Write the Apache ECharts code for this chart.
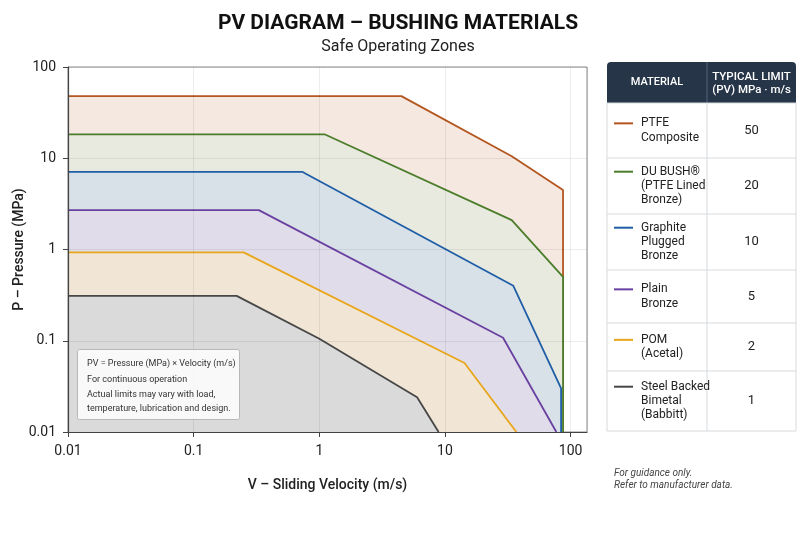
<!DOCTYPE html>
<html lang="en">
<head>
<meta charset="utf-8">
<title>PV Diagram – Bushing Materials</title>
<script src="https://cdn.jsdelivr.net/npm/echarts@6/dist/echarts.min.js"></script>
<style>
  html, body { margin: 0; padding: 0; background: #fff; }
  #chart { width: 800px; height: 533px; }
</style>
</head>
<body>
<div id="chart"></div>
<script>
// table / legend content
var materialNames = ['PTFE\nComposite', 'DU BUSH®\n(PTFE Lined\nBronze)', 'Graphite\nPlugged\nBronze', 'Plain\nBronze', 'POM\n(Acetal)', 'Steel Backed\nBimetal\n(Babbitt)'];
var pvLimits = [50, 20, 10, 5, 2, 1];
var xTickLabels = ['0.01', '0.1', '1', '10', '100'];

// boundary curves, velocity (m/s) and pressure (MPa)
var ptfeV = [0.01, 4.5, 34, 87, 87];
var ptfeP = [48, 48, 10.5, 4.5, 0.01];
var duV = [0.01, 1.1, 34, 87, 87];
var duP = [18.3, 18.3, 2.1, 0.5, 0.01];
var graphiteV = [0.01, 0.73, 35, 84, 84];
var graphiteP = [7.1, 7.1, 0.4, 0.03, 0.01];
var bronzeV = [0.01, 0.33, 29, 77];
var bronzeP = [2.7, 2.7, 0.108, 0.01];
var pomV = [0.01, 0.25, 14.3, 37];
var pomP = [0.93, 0.93, 0.057, 0.01];
var steelV = [0.01, 0.22, 1.0, 6.0, 8.9];
var steelP = [0.31, 0.31, 0.105, 0.024, 0.01];

var curves = [[ptfeV, ptfeP], [duV, duP], [graphiteV, graphiteP], [bronzeV, bronzeP], [pomV, pomP], [steelV, steelP]];
var lineColors = ['#b4561f', '#4b7d2b', '#1f5ea6', '#6a40a0', '#e9a61a', '#474747'];
var fillColors = ['#f5e8e0', '#e9eadf', '#d8e1e8', '#e0dcea', '#f1e6d6', '#dadada'];

function pairs(v, p) {
	var out = [];
	for (var i = 0; i < v.length; i++) out.push([v[i], p[i]]);
	return out;
}

var seriesList = curves.map(function (c, i) {
	return {
		name: materialNames[i].replace(/\n/g, ' '),
		type: 'line',
		data: pairs(c[0], c[1]),
		symbol: 'none',
		z: 2 + i * 0.1,
		lineStyle: { color: lineColors[i], width: 1.8 },
		itemStyle: { color: lineColors[i] },
		areaStyle: { color: fillColors[i], opacity: 1, origin: 'start' }
	};
});

// table on the right + note box, as graphic elements
function buildGraphics() {
	var tblL = 607, tblR = 796, colX = 707, headTop = 62, headBot = 103;
	var rowEdges = [103, 158, 214, 270, 323, 371, 431];
	var lh = 14.3;
	var g = [];
	g.push({ type: 'rect', shape: { x: tblL, y: headTop, width: tblR - tblL, height: headBot - headTop, r: [4, 4, 0, 0] }, style: { fill: '#263547' } });
	g.push({ type: 'line', shape: { x1: colX, y1: headTop, x2: colX, y2: headBot }, style: { stroke: '#56657a', lineWidth: 1 } });
	g.push({ type: 'text', x: (tblL + colX) / 2, y: 82.5, style: { text: 'MATERIAL', fill: '#fff', font: '500 11px Roboto', align: 'center', verticalAlign: 'middle' } });
	g.push({ type: 'text', x: (colX + tblR) / 2, y: 83.5, style: { text: 'TYPICAL LIMIT\n(PV) MPa · m/s', fill: '#fff', font: '500 11.5px Roboto', lineHeight: 13.5, align: 'center', verticalAlign: 'middle' } });
	g.push({ type: 'rect', shape: { x: tblL, y: headBot, width: tblR - tblL, height: rowEdges[6] - headBot }, style: { fill: '#fff', stroke: '#d6dade', lineWidth: 1 } });
	g.push({ type: 'line', shape: { x1: colX, y1: headBot, x2: colX, y2: rowEdges[6] }, style: { stroke: '#d6dade', lineWidth: 1 } });
	for (var r = 0; r < materialNames.length; r++) {
		var rowTop = rowEdges[r], rowBot = rowEdges[r + 1], mid = (rowTop + rowBot) / 2;
		var n = materialNames[r].split('\n').length;
		if (r > 0) g.push({ type: 'line', shape: { x1: tblL, y1: rowTop, x2: tblR, y2: rowTop }, style: { stroke: '#d6dade', lineWidth: 1 } });
		var ly = mid - (n - 1) / 2 * lh;
		g.push({ type: 'line', shape: { x1: 614, y1: ly, x2: 633, y2: ly }, style: { stroke: lineColors[r], lineWidth: 2 } });
		g.push({ type: 'text', x: 641, y: mid, style: { text: materialNames[r], fill: '#222', font: '12px Roboto', lineHeight: lh, verticalAlign: 'middle' } });
		g.push({ type: 'text', x: (colX + tblR) / 2, y: mid, style: { text: String(pvLimits[r]), fill: '#222', font: '13px Roboto', align: 'center', verticalAlign: 'middle' } });
	}
	g.push({ type: 'text', x: 614, y: 479.5, style: { text: 'For guidance only.\nRefer to manufacturer data.', fill: '#444', font: 'italic 10px Roboto', lineHeight: 12.5, verticalAlign: 'middle' } });

	// note box inside the plot
	g.push({ type: 'rect', shape: { x: 77.5, y: 349.5, width: 162, height: 70, r: 2 }, style: { fill: 'rgba(255,255,255,0.82)', stroke: '#b8b8b8', lineWidth: 1 }, z: 10 });
	g.push({ type: 'text', x: 87, y: 364, z: 11, style: { text: 'PV = Pressure (MPa) × Velocity (m/s)', fill: '#333', font: '9px Roboto', verticalAlign: 'middle' } });
	g.push({ type: 'text', x: 87, y: 379.5, z: 11, style: { text: 'For continuous operation', fill: '#333', font: '9px Roboto', verticalAlign: 'middle' } });
	g.push({ type: 'text', x: 87, y: 401.5, z: 11, style: { text: 'Actual limits may vary with load,\ntemperature, lubrication and design.', fill: '#333', font: '9px Roboto', lineHeight: 14.5, verticalAlign: 'middle' } });
	return g;
}

var myChart = echarts.init(document.getElementById('chart'));
var option = {
	backgroundColor: '#fff',
	animation: false,
	title: {
		text: 'PV DIAGRAM – BUSHING MATERIALS',
		subtext: 'Safe Operating Zones',
		left: 393, textAlign: 'center', top: 8, itemGap: 5,
		textStyle: { fontFamily: 'Roboto', fontSize: 21, fontWeight: 'bold', color: '#111' },
		subtextStyle: { fontFamily: 'Roboto', fontSize: 16, color: '#222' }
	},
	grid: { left: 68, right: 213, top: 67, bottom: 101, outerBoundsMode: 'none', containLabel: false, show: true, borderColor: '#8a8a8a', borderWidth: 1, backgroundColor: '#fff' },
	xAxis: {
		type: 'log', logBase: 10, min: 0.01, max: 135, z: 3,
		name: 'V – Sliding Velocity (m/s)', nameLocation: 'middle', nameGap: 46,
		nameTextStyle: { fontFamily: 'Roboto', fontSize: 14, fontWeight: 500, color: '#222' },
		axisLine: { show: true, lineStyle: { color: '#444', width: 1.2 } },
		axisTick: { show: true, length: 5, lineStyle: { color: '#444' } },
		axisLabel: {
			margin: 12, showMaxLabel: false, fontFamily: 'Roboto', fontSize: 14, color: '#222',
			formatter: function (v) { var k = Math.round(Math.log10(v)) + 2; return xTickLabels[k] || ''; }
		},
		splitLine: { show: true, lineStyle: { color: 'rgba(0,0,0,0.07)' } }
	},
	yAxis: {
		type: 'log', logBase: 10, min: 0.01, max: 100, z: 3,
		name: 'P – Pressure (MPa)', nameLocation: 'middle', nameGap: 42, nameRotate: 90, nameMoveOverlap: false,
		nameTextStyle: { fontFamily: 'Roboto', fontSize: 14, fontWeight: 500, color: '#222' },
		axisLine: { show: true, lineStyle: { color: '#444', width: 1.2 } },
		axisTick: { show: true, length: 5, lineStyle: { color: '#444' } },
		axisLabel: { margin: 12, fontFamily: 'Roboto', fontSize: 14, color: '#222',
			formatter: function (v) { return String(+v.toPrecision(3)); } },
		splitLine: { show: true, lineStyle: { color: 'rgba(0,0,0,0.07)' } }
	},
	series: seriesList,
	graphic: buildGraphics()
};
myChart.setOption(option);
</script>
</body>
</html>
